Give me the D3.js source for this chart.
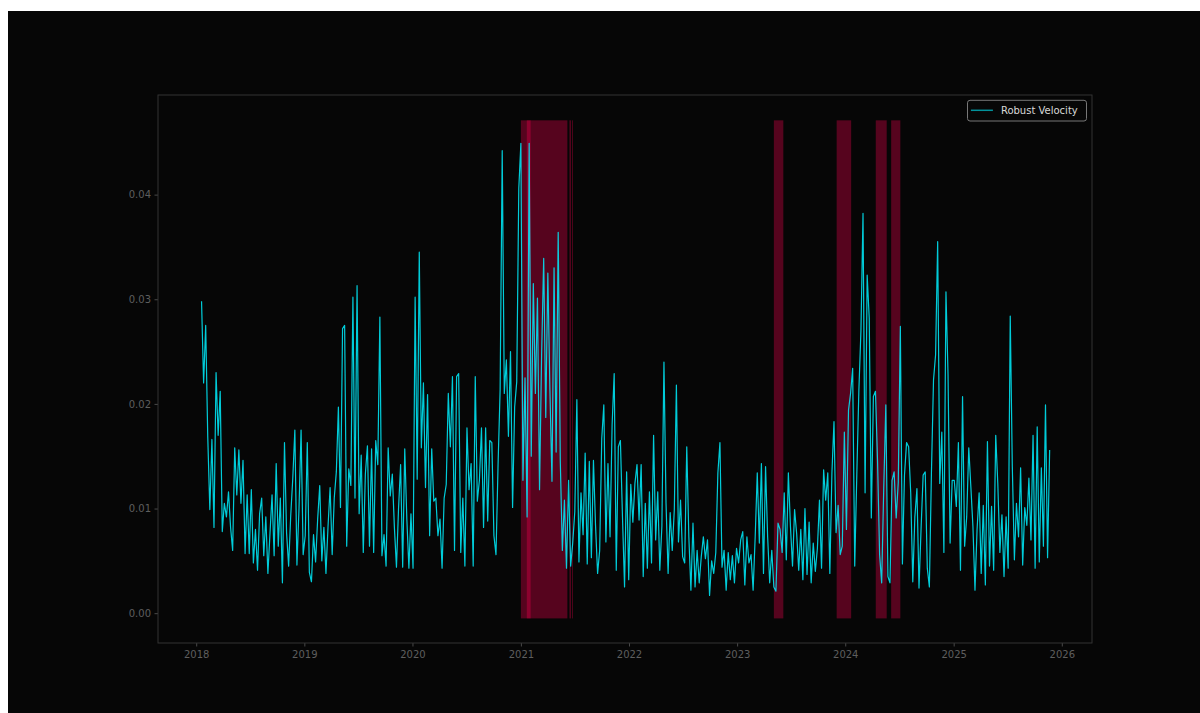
<!DOCTYPE html>
<html>
<head>
<meta charset="utf-8">
<style>
  body { margin: 0; background: #fff; }
  svg { display: block; font-family: "DejaVu Sans", sans-serif; }
</style>
</head>
<body>
<svg width="1200" height="713"></svg>
<script src="https://d3js.org/d3.v7.min.js"></script>
<script>
  // weekly readings, one array per calendar year
  var start2018 = "2018-01-19";
  var v2018 = [0.0298, 0.0220, 0.0275, 0.0168, 0.0099, 0.0166, 0.0082, 0.0230, 0.0170, 0.0212,
               0.0078, 0.0105, 0.0092, 0.0116, 0.0082, 0.0060, 0.0158, 0.0113, 0.0156, 0.0105,
               0.0146, 0.0057, 0.0113, 0.0057, 0.0118, 0.0048, 0.0080, 0.0041, 0.0095, 0.0110,
               0.0055, 0.0092, 0.0038, 0.0076, 0.0113, 0.0055, 0.0143, 0.0064, 0.0110, 0.0029,
               0.0163, 0.0077, 0.0045, 0.0093, 0.0129, 0.0175, 0.0046, 0.0100, 0.0175, 0.0056];
  var v2019 = [0.0074, 0.0163, 0.0039, 0.0030, 0.0075, 0.0049, 0.0090, 0.0122, 0.0050, 0.0082,
               0.0038, 0.0083, 0.0120, 0.0056, 0.0110, 0.0135, 0.0197, 0.0101, 0.0272, 0.0275,
               0.0064, 0.0138, 0.0122, 0.0302, 0.0110, 0.0313, 0.0095, 0.0151, 0.0058, 0.0133,
               0.0160, 0.0064, 0.0157, 0.0058, 0.0165, 0.0142, 0.0283, 0.0055, 0.0075, 0.0045,
               0.0158, 0.0112, 0.0133, 0.0082, 0.0044, 0.0100, 0.0142, 0.0044, 0.0157, 0.0090,
               0.0043, 0.0095];
  var v2020 = [0.0043, 0.0302, 0.0128, 0.0345, 0.0158, 0.0220, 0.0120, 0.0209, 0.0074, 0.0157,
               0.0107, 0.0110, 0.0074, 0.0090, 0.0043, 0.0110, 0.0123, 0.0210, 0.0159, 0.0226,
               0.0060, 0.0226, 0.0229, 0.0058, 0.0110, 0.0045, 0.0177, 0.0118, 0.0143, 0.0045,
               0.0226, 0.0107, 0.0127, 0.0177, 0.0082, 0.0177, 0.0088, 0.0165, 0.0163, 0.0074,
               0.0056, 0.0142, 0.0214, 0.0442, 0.0210, 0.0242, 0.0169, 0.0250, 0.0101, 0.0197,
               0.0221, 0.0406];
  var v2021 = [0.0449, 0.0127, 0.0225, 0.0092, 0.0449, 0.0150, 0.0315, 0.0210, 0.0301, 0.0118,
               0.0247, 0.0339, 0.0187, 0.0325, 0.0213, 0.0126, 0.0330, 0.0154, 0.0364, 0.0146,
               0.0060, 0.0108, 0.0043, 0.0127, 0.0045, 0.0067, 0.0097, 0.0204, 0.0049, 0.0115,
               0.0075, 0.0153, 0.0047, 0.0145, 0.0053, 0.0146, 0.0084, 0.0038, 0.0060, 0.0167,
               0.0199, 0.0068, 0.0143, 0.0073, 0.0180, 0.0229, 0.0041, 0.0159, 0.0165, 0.0092,
               0.0025, 0.0135, 0.0032];
  var v2022 = [0.0123, 0.0087, 0.0124, 0.0142, 0.0089, 0.0142, 0.0035, 0.0105, 0.0043, 0.0116,
               0.0048, 0.0170, 0.0070, 0.0116, 0.0041, 0.0083, 0.0240, 0.0105, 0.0038, 0.0096,
               0.0060, 0.0099, 0.0218, 0.0068, 0.0108, 0.0054, 0.0048, 0.0159, 0.0073, 0.0022,
               0.0086, 0.0025, 0.0060, 0.0029, 0.0054, 0.0073, 0.0052, 0.0070, 0.0017, 0.0050,
               0.0038, 0.0058, 0.0134, 0.0163, 0.0044, 0.0060, 0.0022, 0.0058, 0.0032, 0.0055,
               0.0029, 0.0062];
  var v2023 = [0.0048, 0.0070, 0.0078, 0.0027, 0.0073, 0.0048, 0.0056, 0.0022, 0.0073, 0.0134,
               0.0067, 0.0143, 0.0038, 0.0140, 0.0073, 0.0029, 0.0060, 0.0025, 0.0021, 0.0086,
               0.0080, 0.0058, 0.0115, 0.0051, 0.0134, 0.0083, 0.0045, 0.0099, 0.0076, 0.0041,
               0.0080, 0.0032, 0.0100, 0.0037, 0.0087, 0.0029, 0.0067, 0.0040, 0.0062, 0.0108,
               0.0043, 0.0137, 0.0108, 0.0134, 0.0038, 0.0134, 0.0183, 0.0077, 0.0103, 0.0056,
               0.0064, 0.0173];
  var v2024 = [0.0080, 0.0194, 0.0210, 0.0234, 0.0045, 0.0132, 0.0213, 0.0270, 0.0382, 0.0115,
               0.0323, 0.0282, 0.0091, 0.0207, 0.0212, 0.0146, 0.0056, 0.0029, 0.0120, 0.0199,
               0.0035, 0.0029, 0.0127, 0.0135, 0.0091, 0.0125, 0.0274, 0.0047, 0.0132, 0.0163,
               0.0159, 0.0115, 0.0030, 0.0092, 0.0119, 0.0024, 0.0081, 0.0132, 0.0135, 0.0043,
               0.0025, 0.0135, 0.0223, 0.0247, 0.0355, 0.0124, 0.0173, 0.0058, 0.0307, 0.0228,
               0.0067, 0.0127];
  var v2025 = [0.0127, 0.0102, 0.0163, 0.0041, 0.0207, 0.0064, 0.0092, 0.0158, 0.0121, 0.0083,
               0.0022, 0.0080, 0.0115, 0.0038, 0.0103, 0.0027, 0.0164, 0.0045, 0.0102, 0.0041,
               0.0170, 0.0124, 0.0058, 0.0094, 0.0035, 0.0092, 0.0043, 0.0284, 0.0140, 0.0051,
               0.0105, 0.0073, 0.0139, 0.0046, 0.0101, 0.0084, 0.0129, 0.0070, 0.0170, 0.0043,
               0.0178, 0.0049, 0.0139, 0.0064, 0.0199, 0.0053, 0.0156];

  // highlighted regimes
  var spanStarts = ["2021-01-01", "2021-01-21", "2021-06-14", "2021-06-23", "2023-05-05",
                    "2023-12-03", "2024-04-13", "2024-06-04"];
  var spanEnds   = ["2021-02-03", "2021-06-07", "2021-06-19", "2021-06-26", "2023-06-06",
                    "2024-01-21", "2024-05-20", "2024-07-05"];
  var spanLow = -0.0005, spanHigh = 0.0471;

  var yTicks = [0, 0.01, 0.02, 0.03, 0.04];
  var seriesName = "Robust Velocity";

  var parse = d3.utcParse("%Y-%m-%d");
  var values = [].concat(v2018, v2019, v2020, v2021, v2022, v2023, v2024, v2025);
  var t0 = parse(start2018);
  var data = values.map(function(v, i) {
    return { date: d3.utcDay.offset(t0, 7 * i), value: v };
  });

  var svg = d3.select("svg"),
      margin = {top: 95, right: 108, bottom: 70, left: 158},
      width = +svg.attr("width") - margin.left - margin.right,
      height = +svg.attr("height") - margin.top - margin.bottom;

  // figure background (white strip on top/left like the screenshot)
  svg.append("rect").attr("x", 8).attr("y", 11)
      .attr("width", 1192).attr("height", 702).attr("fill", "#060606");

  var g = svg.append("g").attr("transform", "translate(" + margin.left + "," + margin.top + ")");

  var x = d3.scaleUtc()
      .domain([parse("2017-08-25"), parse("2026-04-13")])
      .range([0, width]);

  var y = d3.scaleLinear()
      .domain([-0.00285, 0.04952])
      .range([height, 0]);

  g.append("rect").attr("width", width).attr("height", height).attr("fill", "#060606");

  g.selectAll(".span")
    .data(spanStarts.map(function(s, i) { return [parse(s), parse(spanEnds[i])]; }))
    .enter().append("rect")
      .attr("class", "span")
      .attr("x", function(d) { return x(d[0]); })
      .attr("width", function(d) { return x(d[1]) - x(d[0]); })
      .attr("y", y(spanHigh))
      .attr("height", y(spanLow) - y(spanHigh))
      .attr("fill", "#ff0050")
      .attr("fill-opacity", 0.32);

  var line = d3.line()
      .x(function(d) { return x(d.date); })
      .y(function(d) { return y(d.value); });

  g.append("path")
      .datum(data)
      .attr("fill", "none")
      .attr("stroke", "#00f0ff")
      .attr("stroke-opacity", 0.85)
      .attr("stroke-width", 1.2)
      .attr("stroke-linejoin", "round")
      .attr("d", line);

  var xAxis = g.append("g")
      .attr("transform", "translate(0," + height + ")")
      .call(d3.axisBottom(x).ticks(d3.utcYear.every(1)).tickFormat(d3.utcFormat("%Y"))
            .tickSize(3.5).tickPadding(4.5));
  var yAxis = g.append("g")
      .call(d3.axisLeft(y).tickValues(yTicks).tickFormat(d3.format(".2f"))
            .tickSize(3.5).tickPadding(3.5));

  [xAxis, yAxis].forEach(function(a) {
    a.select(".domain").remove();
    a.selectAll(".tick line").attr("stroke", "#4a4a4a");
    a.selectAll(".tick text").attr("fill", "#5e5e5e")
        .style("font-family", "DejaVu Sans").style("font-size", "10px");
  });

  // spines
  g.append("rect").attr("width", width).attr("height", height)
      .attr("fill", "none").attr("stroke", "#333").attr("stroke-width", 1);

  // legend
  var lg = g.append("g").attr("transform", "translate(" + (width - 124.5) + ",5.3)");
  lg.append("rect").attr("width", 119).attr("height", 20.7).attr("rx", 2.5)
      .attr("fill", "#070707").attr("stroke", "#777").attr("stroke-width", 1);
  lg.append("line").attr("x1", 3.4).attr("x2", 25.4).attr("y1", 10).attr("y2", 10)
      .attr("stroke", "#00f0ff").attr("stroke-opacity", 0.6).attr("stroke-width", 1.5);
  lg.append("text").attr("x", 33.4).attr("y", 14)
      .attr("fill", "#d8d8d8").style("font-size", "10px")
      .text(seriesName);
</script>
</body>
</html>
